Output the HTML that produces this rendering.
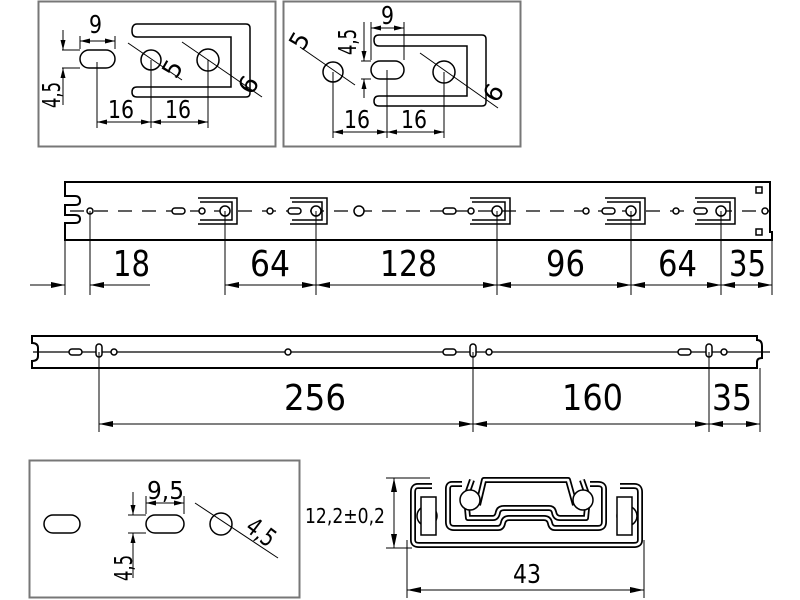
<!DOCTYPE html>
<html><head><meta charset="utf-8"><style>
html,body{margin:0;padding:0;background:#fff;}
svg{display:block;}
text{font-family:"DejaVu Sans","Liberation Sans",sans-serif;fill:#000;}
</style></head><body>
<svg width="800" height="600" viewBox="0 0 800 600" xmlns="http://www.w3.org/2000/svg">
<defs>
<marker id="a" markerWidth="14" markerHeight="6" refX="14" refY="3" orient="auto-start-reverse" markerUnits="userSpaceOnUse"><path d="M0,0 L14,3 L0,6 Z" fill="#000"/></marker>
<marker id="s" markerWidth="10" markerHeight="5" refX="10" refY="2.5" orient="auto-start-reverse" markerUnits="userSpaceOnUse"><path d="M0,0 L10,2.5 L0,5 Z" fill="#000"/></marker>
</defs>
<g fill="none" stroke="#000">
<!-- Box 1 -->
<rect x="38.5" y="1.5" width="237" height="145" stroke="#777" stroke-width="2"/>
<rect x="80" y="50" width="35" height="18" rx="9" stroke-width="1.5"/>
<path d="M137,24 L246,24 Q250,24 250,28 L250,93 Q250,97 246,97 L137,97 Q132,97 132,92 Q132,87 137,87 L231,87 L231,37 L137,37 Q132,37 132,31 Q132,24 137,24 Z" stroke-width="1.5"/>
<circle cx="151" cy="60" r="10" stroke-width="1.5"/>
<circle cx="208" cy="60" r="11" stroke-width="1.5"/>
<g stroke-width="1">
<line x1="80" y1="49" x2="80" y2="36"/><line x1="115" y1="49" x2="115" y2="36"/>
<line x1="80" y1="41" x2="115" y2="41" marker-start="url(#s)" marker-end="url(#s)"/>
<line x1="62" y1="50" x2="80" y2="50"/><line x1="62" y1="68" x2="80" y2="68"/>
<line x1="63" y1="30" x2="63" y2="50" marker-end="url(#s)"/><line x1="63" y1="105" x2="63" y2="68" marker-end="url(#s)"/>
<line x1="97" y1="62" x2="97" y2="128"/><line x1="151" y1="60" x2="151" y2="128"/><line x1="208" y1="60" x2="208" y2="128"/>
<line x1="97" y1="122" x2="151" y2="122" marker-start="url(#s)" marker-end="url(#s)"/>
<line x1="151" y1="122" x2="208" y2="122" marker-start="url(#s)" marker-end="url(#s)"/>
<line x1="128" y1="43" x2="182" y2="80"/><line x1="182" y1="42" x2="262" y2="97"/>
</g>
<!-- Box 2 -->
<rect x="283.5" y="1.5" width="237" height="145" stroke="#777" stroke-width="2"/>
<circle cx="333" cy="72" r="10" stroke-width="1.5"/>
<rect x="371" y="61" width="33" height="18" rx="9" stroke-width="1.5"/>
<path d="M379,35 L482,35 Q486,35 486,39 L486,102 Q486,106 482,106 L379,106 Q374,106 374,101 Q374,96 379,96 L467,96 L467,46 L379,46 Q374,46 374,40 Q374,35 379,35 Z" stroke-width="1.5"/>
<circle cx="444" cy="72" r="11" stroke-width="1.5"/>
<g stroke-width="1">
<line x1="371" y1="60" x2="371" y2="22"/><line x1="404" y1="60" x2="404" y2="22"/>
<line x1="371" y1="28" x2="404" y2="28" marker-start="url(#s)" marker-end="url(#s)"/>
<line x1="361" y1="61" x2="371" y2="61"/><line x1="361" y1="79" x2="371" y2="79"/>
<line x1="364" y1="22" x2="364" y2="61" marker-end="url(#s)"/><line x1="364" y1="98" x2="364" y2="79" marker-end="url(#s)"/>
<line x1="333" y1="72" x2="333" y2="138"/><line x1="387" y1="70" x2="387" y2="138"/><line x1="444" y1="72" x2="444" y2="138"/>
<line x1="333" y1="132" x2="387" y2="132" marker-start="url(#s)" marker-end="url(#s)"/>
<line x1="387" y1="132" x2="444" y2="132" marker-start="url(#s)" marker-end="url(#s)"/>
<line x1="300" y1="47" x2="355" y2="85"/><line x1="420" y1="53" x2="498" y2="108"/>
</g>
<!-- Top rail -->
<path d="M65,182 L770,182 L770,232 L772,232 L772,240 L65,240 L65,223 L75,223 Q80,223 80,219 Q80,215 75,215 L65,215 L65,205 L75,205 Q80,205 80,201 Q80,196 75,196 L65,196 Z" stroke-width="2"/>
<line x1="70" y1="211" x2="770" y2="211" stroke-width="1.2" stroke-dasharray="14,10"/>
<rect x="756" y="187" width="6" height="6" stroke-width="1.5"/><rect x="756" y="229" width="6" height="6" stroke-width="1.5"/>
<g stroke-width="1.5" fill="#fff">
<circle cx="90" cy="211" r="3"/><rect x="172" y="208" width="13" height="6" rx="3"/><circle cx="202" cy="211" r="3"/><circle cx="225" cy="211" r="5"/>
<circle cx="270" cy="211" r="3"/><rect x="288" y="208" width="13" height="6" rx="3"/><circle cx="316" cy="211" r="5"/>
<circle cx="359" cy="211" r="5"/>
<rect x="443" y="208" width="13" height="6" rx="3"/><circle cx="471" cy="211" r="3"/><circle cx="497" cy="211" r="5"/>
<circle cx="586" cy="211" r="3"/><rect x="602" y="208" width="13" height="6" rx="3"/><circle cx="631" cy="211" r="5"/>
<circle cx="676" cy="211" r="3"/><rect x="694" y="208" width="13" height="6" rx="3"/><circle cx="721" cy="211" r="5"/>
<circle cx="765" cy="211" r="3"/>
</g>
<g stroke-width="1.5">
<path d="M198,198 L237,198 L237,224 L198,224 M200,202 L232,202 L232,220 L200,220"/>
<path d="M290,198 L327,198 L327,224 L290,224 M292,202 L322,202 L322,220 L292,220"/>
<path d="M470,198 L510,198 L510,224 L470,224 M472,202 L505,202 L505,220 L472,220"/>
<path d="M605,198 L645,198 L645,224 L605,224 M607,202 L640,202 L640,220 L607,220"/>
<path d="M695,198 L735,198 L735,224 L695,224 M697,202 L730,202 L730,220 L697,220"/>
</g>
<g stroke-width="1">
<line x1="65" y1="240" x2="65" y2="295"/><line x1="90" y1="211" x2="90" y2="295"/>
<line x1="225" y1="211" x2="225" y2="295"/><line x1="316" y1="211" x2="316" y2="295"/>
<line x1="497" y1="211" x2="497" y2="295"/><line x1="631" y1="211" x2="631" y2="295"/>
<line x1="721" y1="211" x2="721" y2="295"/><line x1="772" y1="240" x2="772" y2="295"/>
<line x1="30" y1="285" x2="65" y2="285" marker-end="url(#a)"/>
<line x1="150" y1="285" x2="90" y2="285" marker-end="url(#a)"/>
<line x1="225" y1="285" x2="316" y2="285" marker-start="url(#a)" marker-end="url(#a)"/>
<line x1="316" y1="285" x2="497" y2="285" marker-start="url(#a)" marker-end="url(#a)"/>
<line x1="497" y1="285" x2="631" y2="285" marker-start="url(#a)" marker-end="url(#a)"/>
<line x1="631" y1="285" x2="721" y2="285" marker-start="url(#a)" marker-end="url(#a)"/>
<line x1="721" y1="285" x2="772" y2="285" marker-start="url(#a)" marker-end="url(#a)"/>
</g>
<!-- Second rail -->
<path d="M32,336 L757,336 L757,340 Q762,340 762,346 L762,358 Q757,358 757,362 L757,368 L32,368 L32,361 Q38,361 38,356 L38,348 Q38,343 32,343 Z" stroke-width="2"/>
<line x1="33" y1="352" x2="770" y2="352" stroke-width="1.2"/>
<g stroke-width="1.5" fill="#fff">
<rect x="69" y="349" width="13" height="6" rx="3"/><rect x="96" y="344" width="6" height="13" rx="3"/><circle cx="114" cy="352" r="3"/>
<circle cx="288" cy="352" r="3"/>
<rect x="443" y="349" width="13" height="6" rx="3"/><rect x="470" y="344" width="6" height="13" rx="3"/><circle cx="489" cy="352" r="3"/>
<rect x="678" y="349" width="13" height="6" rx="3"/><rect x="706" y="344" width="6" height="13" rx="3"/><circle cx="724" cy="352" r="3"/>
</g>
<g stroke-width="1">
<line x1="99" y1="352" x2="99" y2="432"/><line x1="473" y1="352" x2="473" y2="432"/>
<line x1="709" y1="352" x2="709" y2="432"/><line x1="760" y1="368" x2="760" y2="432"/>
<line x1="99" y1="424" x2="473" y2="424" marker-start="url(#a)" marker-end="url(#a)"/>
<line x1="473" y1="424" x2="709" y2="424" marker-start="url(#a)" marker-end="url(#a)"/>
<line x1="709" y1="424" x2="760" y2="424" marker-start="url(#a)" marker-end="url(#a)"/>
</g>
<!-- Box 3 -->
<rect x="29.5" y="460.5" width="270" height="137" stroke="#777" stroke-width="2"/>
<g stroke-width="1.5">
<rect x="44" y="515" width="36" height="18" rx="9"/>
<rect x="146" y="515" width="38" height="18" rx="9"/>
<circle cx="221" cy="524" r="11"/>
</g>
<g stroke-width="1">
<line x1="146" y1="514" x2="146" y2="496"/><line x1="184" y1="514" x2="184" y2="496"/>
<line x1="146" y1="503" x2="184" y2="503" marker-start="url(#s)" marker-end="url(#s)"/>
<line x1="128" y1="515" x2="146" y2="515"/><line x1="128" y1="533" x2="146" y2="533"/>
<line x1="133" y1="492" x2="133" y2="515" marker-end="url(#s)"/><line x1="133" y1="578" x2="133" y2="533" marker-end="url(#s)"/>
<line x1="195" y1="503" x2="278" y2="558"/>
</g>
<!-- Profile -->
<g stroke="#000" stroke-width="6" stroke-linejoin="round">
<path id="p1" d="M432,486 L418,486 Q413,486 413,492 L413,540 Q413,545 419,545 L634,545 Q640,545 640,540 L640,492 Q640,486 634,486 L620,486"/>
<path id="p2" d="M462,484 L452,484 Q448,484 448,489 L448,522 Q448,528 454,528 L498,528 Q502,528 503,523 Q504,518 509,518 L544,518 Q549,518 550,523 Q551,528 555,528 L598,528 Q604,528 604,522 L604,489 Q604,484 598,484 L590,484"/>
<path id="p3" d="M472,480 L466,497 L468,518 L493,518 Q497,518 498,512 Q499,508 504,508 L549,508 Q553,508 554,512 Q555,518 560,518 L586,518 L588,497 L582,480"/>
<path id="p4" d="M478,505 L484,480 L568,480 L575,505"/>
</g>
<g stroke="#fff" stroke-width="2.5" stroke-linejoin="round">
<use href="#p1"/><use href="#p2"/><use href="#p3"/><use href="#p4"/>
</g>
<g stroke-width="1.5" fill="#fff">
<circle cx="470" cy="500" r="10"/><circle cx="583" cy="500" r="10"/>
<circle cx="427" cy="516" r="10"/><circle cx="627" cy="516" r="10"/>
<rect x="421" y="497" width="15" height="38"/><rect x="617" y="497" width="15" height="38"/>
</g>
<g stroke-width="1">
<line x1="386" y1="478" x2="430" y2="478"/><line x1="386" y1="548" x2="412" y2="548"/>
<line x1="394" y1="513" x2="394" y2="478" marker-end="url(#a)"/><line x1="394" y1="513" x2="394" y2="548" marker-end="url(#a)"/>
<line x1="407" y1="540" x2="407" y2="598"/><line x1="644" y1="540" x2="644" y2="598"/>
<line x1="407" y1="590" x2="644" y2="590" marker-start="url(#a)" marker-end="url(#a)"/>
</g>
</g>
<g font-size="25">
<text x="89" y="33" textLength="13" lengthAdjust="spacingAndGlyphs">9</text>
<text x="60" y="108" transform="rotate(-90 60 108)" textLength="26" lengthAdjust="spacingAndGlyphs">4,5</text>
<text x="108" y="118" textLength="26" lengthAdjust="spacingAndGlyphs">16</text>
<text x="165" y="118" textLength="26" lengthAdjust="spacingAndGlyphs">16</text>
<text x="176" y="80" transform="rotate(-60 176 80)">5</text>
<text x="252" y="96" transform="rotate(-60 252 96)">6</text>
<text x="381" y="24" textLength="13" lengthAdjust="spacingAndGlyphs">9</text>
<text x="356" y="55" transform="rotate(-90 356 55)" textLength="26" lengthAdjust="spacingAndGlyphs">4,5</text>
<text x="344" y="128" textLength="26" lengthAdjust="spacingAndGlyphs">16</text>
<text x="401" y="128" textLength="26" lengthAdjust="spacingAndGlyphs">16</text>
<text x="303" y="52" transform="rotate(-60 303 52)">5</text>
<text x="497" y="104" transform="rotate(-60 497 104)">6</text>
<text x="147" y="499" textLength="37" lengthAdjust="spacingAndGlyphs">9,5</text>
<text x="132" y="581" transform="rotate(-90 132 581)" textLength="26" lengthAdjust="spacingAndGlyphs">4,5</text>
<text x="244" y="530" transform="rotate(37 244 530)" textLength="30" lengthAdjust="spacingAndGlyphs">4,5</text>
</g>
<g font-size="36">
<text x="113" y="276" textLength="37" lengthAdjust="spacingAndGlyphs">18</text>
<text x="250" y="276" textLength="40" lengthAdjust="spacingAndGlyphs">64</text>
<text x="380" y="276" textLength="57" lengthAdjust="spacingAndGlyphs">128</text>
<text x="546" y="276" textLength="39" lengthAdjust="spacingAndGlyphs">96</text>
<text x="658" y="276" textLength="39" lengthAdjust="spacingAndGlyphs">64</text>
<text x="729" y="276" textLength="37" lengthAdjust="spacingAndGlyphs">35</text>
<text x="284" y="410" textLength="62" lengthAdjust="spacingAndGlyphs">256</text>
<text x="562" y="410" textLength="61" lengthAdjust="spacingAndGlyphs">160</text>
<text x="712" y="410" textLength="40" lengthAdjust="spacingAndGlyphs">35</text>
<text x="513" y="583" font-size="26" textLength="28" lengthAdjust="spacingAndGlyphs">43</text>
</g>
<text x="305" y="523" font-size="20" textLength="80" lengthAdjust="spacingAndGlyphs">12,2±0,2</text>
</svg>
</body></html>
